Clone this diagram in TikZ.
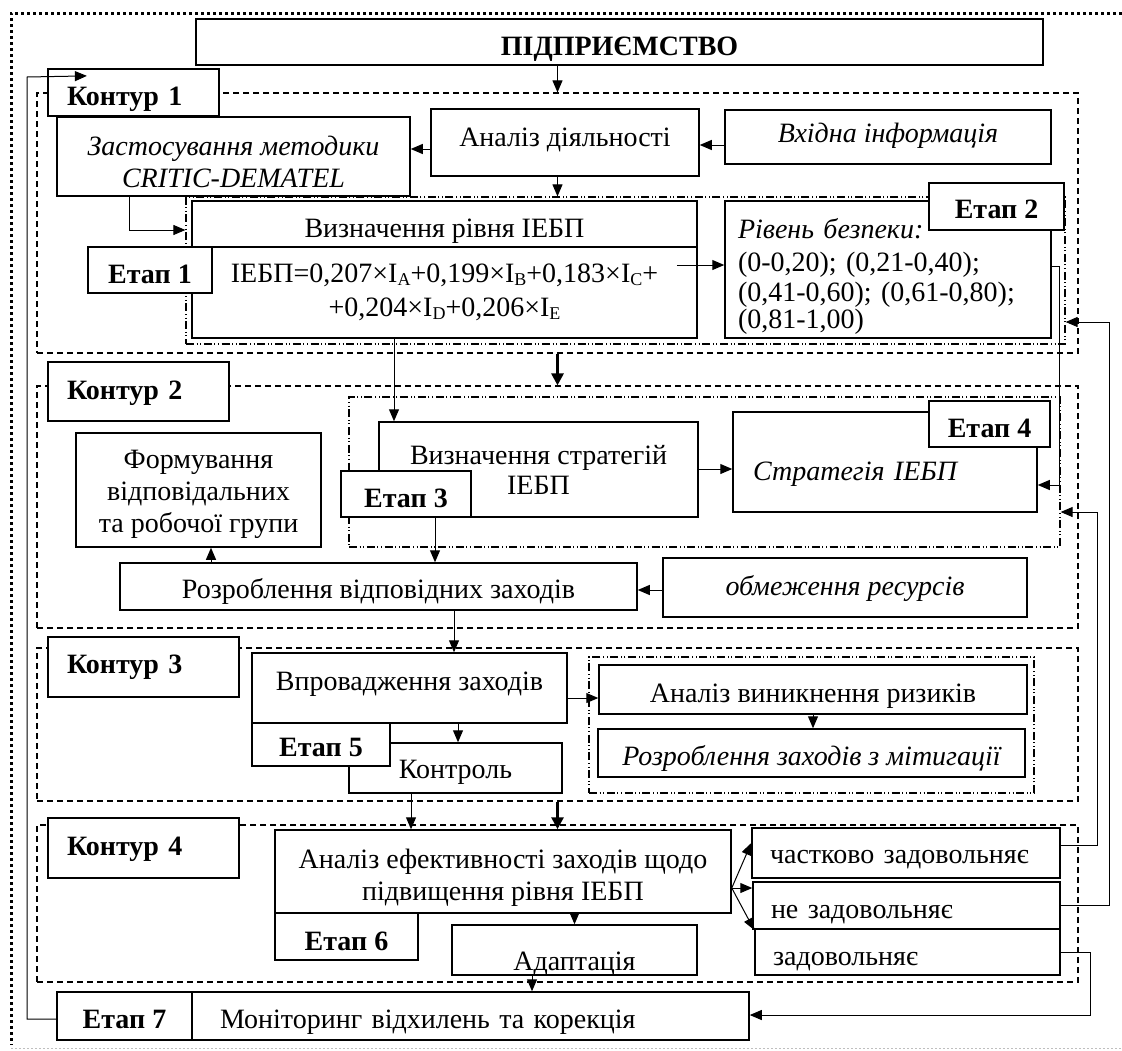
\documentclass[tikz,border=0pt]{standalone}
\usepackage{fontspec}
\setmainfont{Liberation Serif}
\usetikzlibrary{arrows.meta,calc}

\newcommand{\subidx}[1]{\raisebox{-1.2pt}{\fontsize{9}{9}\selectfont #1}}

\begin{document}
\begin{tikzpicture}[
    x=0.5pt, y=-0.5pt,
    every node/.style={font=\fontsize{14}{16.5}\selectfont},
    box/.style={draw, line width=0.75pt, fill=white, inner sep=0pt},
    one/.style={text height=#1, text depth=3pt},
    one/.default=15pt,
    ital/.style={font=\fontsize{14}{16.5}\selectfont\itshape},
    tag/.style={box, line width=1.1pt, font=\fontsize{14}{16.5}\selectfont\bfseries},
    kontur/.style={draw, line width=0.6pt, dash pattern=on 3pt off 2pt, inner sep=0pt},
    grp/.style={draw, line width=0.6pt, dash pattern=on 4pt off 1.3pt on 0.5pt off 1.3pt on 0.5pt off 1.3pt, inner sep=0pt},
    arr/.style={-{Triangle[length=6pt,width=5pt]}, line width=0.5pt},
    bigarr/.style={-{Triangle[length=6pt,width=6pt]}, line width=1.4pt},
  ]

  \useasboundingbox (0,0) rectangle (1122,1050);

  % outer frame
  \draw[line width=1.5pt, dash pattern=on 1.5pt off 1.5pt] (1122,13) -- (11,13) -- (11,1045);
  \draw[gray!50, line width=0.5pt, dash pattern=on 1pt off 1pt] (11,1048) -- (1122,1048);

  % contours
  \node[kontur, minimum width=520.5pt, minimum height=130pt] (kont1) at (557.5,223) {};
  \node[kontur, minimum width=520.5pt, minimum height=121pt] (kont2) at (557.5,507) {};
  \node[kontur, minimum width=520.5pt, minimum height=76.5pt] (kont3) at (557.5,724.5) {};
  \node[kontur, minimum width=520.5pt, minimum height=78.5pt] (kont4) at (557.5,903.5) {};

  % stage groups
  \node[grp, minimum width=439.5pt, minimum height=73.5pt] (grp1) at (625.5,270.5) {};
  \node[grp, minimum width=355.5pt, minimum height=75pt] (grp2) at (704.5,472) {};
  \node[grp, minimum width=222.5pt, minimum height=68pt] (grp3) at (811.5,725) {};

  % contour 1
  \node[box, one=16pt, minimum width=423.5pt, minimum height=23pt, font=\fontsize{14}{16.5}\selectfont\bfseries] (firm) at (619.5,42) {ПІДПРИЄМСТВО};
  \node[box, one=7pt, minimum width=134pt, minimum height=33.5pt] (analiz) at (565,142.5) {Аналіз діяльності};
  \node[box, ital, one=8pt, minimum width=163pt, minimum height=27pt] (vkhid) at (888,137) {Вхідна інформація};
  \node[box, ital, minimum width=176.5pt, minimum height=39.5pt, align=center, font=\fontsize{14}{16}\selectfont\itshape] (metod) at (233.5,156.5)
    {\rule{0pt}{15.5pt}Застосування методики\\CRITIC-DEMATEL};
  \node[box, one=16pt, minimum width=252.5pt, minimum height=23pt] (vrivnya) at (444.5,224) {Визначення рівня ІЕБП};
  \node[box, minimum width=252.5pt, minimum height=45.5pt, align=center, font=\fontsize{14}{17}\selectfont] (formula) at (444.5,292.5)
    {ІЕБП=0,207×I\subidx{A}+0,199×I\subidx{B}+0,183×I\subidx{C}+\\+0,204×I\subidx{D}+0,206×I\subidx{E}};
  \node[box, minimum width=163pt, minimum height=68.5pt, inner xsep=6.5pt, text width=150pt, align=left, font=\fontsize{14}{13.5}\selectfont] (riven) at (888,269.5)
    {\rule{0pt}{17pt}\textit{Рівень безпеки:}\\[3pt](0-0,20); (0,21-0,40);\\[1.5pt](0,41-0,60); (0,61-0,80);\\(0,81-1,00)};

  % contour 2
  \node[box, minimum width=159.5pt, minimum height=47.5pt, align=center, font=\fontsize{14}{15}\selectfont] (vstrat) at (538.5,469.5) {Визначення стратегій\\ІЕБП};
  \node[box, ital, one=21pt, minimum width=152pt, minimum height=50pt, inner xsep=10pt, text width=132pt, align=left] (strat) at (885,462) {Стратегія ІЕБП};
  \node[box, minimum width=122.5pt, minimum height=57pt, align=center, font=\fontsize{14}{16}\selectfont] (form) at (198.5,490)
    {\rule{0pt}{13.5pt}Формування\\відповідальних\\та робочої групи};
  \node[box, one=14.5pt, minimum width=258.5pt, minimum height=23.5pt] (rozr) at (378.5,586.5) {Розроблення відповідних заходів};
  \node[box, ital, one=10.5pt, minimum width=182pt, minimum height=29.5pt] (obmezh) at (845,587.5) {обмеження ресурсів};

  % contour 3
  \node[box, one=5pt, minimum width=157.5pt, minimum height=35pt] (vprov) at (409.5,688) {Впровадження заходів};
  \node[box, one=13pt, minimum width=106.5pt, minimum height=25pt] (kontrol) at (455.5,768) {Контроль};
  \node[box, one=15.5pt, minimum width=214pt, minimum height=24.5pt] (ryzyk) at (813,689.5) {Аналіз виникнення ризиків};
  \node[box, ital, one=15pt, minimum width=213.5pt, minimum height=24pt] (mitig) at (811.5,753) {Розроблення заходів з мітигації};

  % contour 4
  \node[box, minimum width=228pt, minimum height=41.5pt, align=center, font=\fontsize{14}{16}\selectfont] (efekt) at (503,871.5)
    {\rule{0pt}{15.5pt}Аналіз ефективності заходів щодо\\підвищення рівня ІЕБП};
  \node[box, text height=22pt, text depth=2pt, minimum width=122.5pt, minimum height=25pt] (adapt) at (574.5,950) {Адаптація};
  \node[box, one=13.5pt, minimum width=154pt, minimum height=25pt, inner xsep=9pt, text width=136pt, align=left] (chastk) at (906,853) {частково задовольняє};
  \node[box, one=15.5pt, minimum width=153.5pt, minimum height=23.5pt, inner xsep=9pt, text width=135.5pt, align=left] (ne) at (906.5,905.5) {не задовольняє};
  \node[box, one=16pt, minimum width=152.5pt, minimum height=23pt, inner xsep=9pt, text width=134.5pt, align=left] (zad) at (907.5,952) {задовольняє};
  \node[box, one, minimum width=278.5pt, minimum height=24pt, inner xsep=14pt, text width=250.5pt, align=left] (monit) at (470.5,1016) {Моніторинг відхилень та корекція};

  % labels
  \node[tag, one=15.5pt, minimum height=23.5pt, inner xsep=9.5pt, text width=66.5pt, align=left] (k1) at (133.5,92.5) {Контур 1};
  \node[tag, one=10.5pt, minimum height=29.5pt, inner xsep=9.5pt, text width=71.5pt, align=left] (k2) at (138.5,391.5) {Контур 2};
  \node[tag, one=9pt, minimum height=30pt, inner xsep=9.5pt, text width=76.5pt, align=left] (k3) at (143.5,667) {Контур 3};
  \node[tag, one=10pt, minimum height=30pt, inner xsep=9.5pt, text width=76.5pt, align=left] (k4) at (143.5,848) {Контур 4};
  \node[tag, one=16pt, minimum width=62pt, minimum height=23pt] (etap1) at (150,270) {Етап 1};
  \node[tag, one=14.5pt, minimum width=67.5pt, minimum height=23.5pt] (etap2) at (996.5,206.5) {Етап 2};
  \node[tag, one=16pt, minimum width=65pt, minimum height=23pt] (etap3) at (406,494) {Етап 3};
  \node[tag, one=16pt, minimum width=60.5pt, minimum height=23pt] (etap4) at (989.5,424) {Етап 4};
  \node[tag, one=14.5pt, minimum width=69pt, minimum height=21.5pt] (etap5) at (321,744.5) {Етап 5};
  \node[tag, one=16.5pt, minimum width=71.5pt, minimum height=23.5pt] (etap6) at (346.5,936.5) {Етап 6};
  \node[tag, one, minimum width=67.5pt, minimum height=24pt] (etap7) at (124.5,1016) {Етап 7};

  % connectors
  \draw[arr] (firm.south -| kont1.north) -- (kont1.north);
  \draw[arr] (vkhid.west |- 0,145) -- (analiz.east |- 0,145);
  \draw[arr] (analiz.west |- 0,149) -- (metod.east |- 0,149);
  \draw[arr] (analiz.south -| kont1.north) -- (grp1.north -| kont1.north);
  \draw[arr] (metod.south -| 129,0) |- (grp1.west |- 0,230);
  \draw[arr] ($(formula.east |- 0,265)+(-21,0)$) -- (riven.west |- 0,265);
  \draw[arr] (formula.south -| 394,0) -- (vstrat.north -| 394,0);
  \draw[bigarr] (kont1.south) -- (kont2.north);
  \draw[arr] (vstrat.east |- 0,469) -- (strat.west |- 0,469);
  \draw[arr] (riven.east |- 0,266) -- (1059,266) |- (strat.east |- 0,485);
  \draw[arr] (etap3.south -| 435,0) -- (rozr.north -| 435,0);
  \draw[arr] (rozr.north -| 211,0) -- (form.south -| 211,0);
  \draw[arr] (obmezh.west |- 0,590) -- (rozr.east |- 0,590);
  \draw[arr] (rozr.south -| 454,0) -- (vprov.north -| 454,0);
  \draw[arr] (vprov.east |- 0,698) -- (ryzyk.west |- 0,698);
  \draw[arr] (ryzyk.south) -- (mitig.north -| ryzyk.south);
  \draw[arr] (vprov.south -| 458,0) -- (kontrol.north -| 458,0);
  \draw[arr] (kontrol.south -| 411,0) -- (efekt.north -| 411,0);
  \draw[bigarr] (kont3.south) -- (efekt.north -| kont3.south);
  \draw[arr] (efekt.south -| adapt.north) -- (adapt.north);
  \draw[arr] (adapt.south -| 532,0) -- (monit.north -| 532,0);
  \coordinate (fork) at (efekt.east |- 0,888);
  \draw[arr] (fork) -- (chastk.west |- 0,843);
  \draw[arr] (fork) -- (ne.west |- 0,888);
  \draw[arr] (fork) -- (zad.west |- 0,930);
  \draw[arr] (chastk.east |- 0,845) -- (1097,845) -- (1097,512) -- (grp2.east |- 0,512);
  \draw[arr] (ne.east |- 0,905) -- (1109,905) -- (1109,322) -- (grp1.east |- 0,322);
  \draw[arr] (zad.east |- 0,952) -- (1090,952) -- (1090,1015) -- (monit.east |- 0,1015);
  \draw[arr] (etap7.west |- 0,1019) -- (27,1019) -- (27,77) -- ($(k1.north west)+(40,8)$);
\end{tikzpicture}
\end{document}
